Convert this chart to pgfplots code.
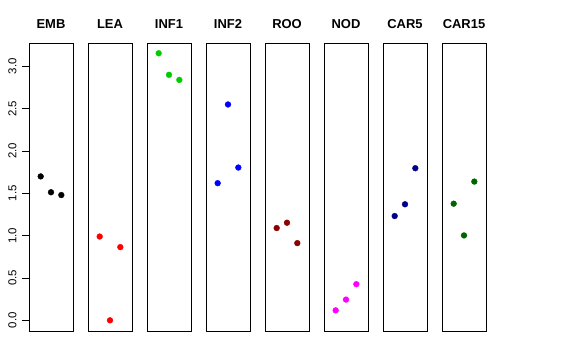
\documentclass[border=0pt]{standalone}
\usepackage{pgfplots}
\pgfplotsset{compat=1.18}
\usepackage{fontspec}
\setmainfont{Liberation Sans}
\definecolor{cgreen}{RGB}{0,205,0}
\definecolor{cdarkred}{RGB}{139,0,0}
\definecolor{cnavy}{RGB}{0,0,139}
\definecolor{cdarkgreen}{RGB}{0,100,0}
\definecolor{cmagenta}{RGB}{255,0,255}
\definecolor{cred}{RGB}{255,0,0}
\definecolor{cblue}{RGB}{0,0,255}
\pgfplotsset{
  panel/.style={
    scale only axis, width=44bp, height=288bp,
    anchor=south west,
    xmin=-0.13, xmax=4.13, ymin=-0.126, ymax=3.276,
    xtick=\empty, ytick=\empty,
    axis line style={line width=0.75bp, black},
    title style={at={(0.5,1)}, anchor=base, yshift=8.7bp, inner sep=0pt,
      font=\bfseries\fontsize{13}{13}\selectfont},
    clip=false,
  },
  pts/.style={only marks, mark=*, mark size=2.9bp, color=#1, mark options={fill=#1, draw=#1}},
}
\newcommand{\panel}[4]{%
  \begin{axis}[panel, at={(#1bp,29bp)}, title={#2}]
    \addplot[pts=#3] coordinates {#4};
  \end{axis}}
\begin{document}
\begin{tikzpicture}
\path[use as bounding box] (0,0) rectangle (576bp,360bp);
\begin{axis}[panel, at={(29bp,29bp)}, title={EMB},
  ytick={0,0.5,1,1.5,2,2.5,3}, ytick pos=left,
  yticklabel style={rotate=90, anchor=south, font=\fontsize{11.5}{11.5}\selectfont},
  yticklabel shift=2bp,
  /pgf/number format/.cd, fixed, fixed zerofill, precision=1, assume math mode=true, /pgfplots/.cd,
  tick align=outside, major tick length=7bp, tick style={line width=0.75bp, black},
  ]
  \addplot[pts=black] coordinates {(1,1.70) (2,1.513) (3,1.48)};
\end{axis}
\panel{88}{LEA}{cred}{(1,0.99) (2,0.0) (3,0.865)}
\panel{147}{INF1}{cgreen}{(1,3.155) (2,2.90) (3,2.84)}
\panel{206}{INF2}{cblue}{(1,1.62) (2,2.55) (3,1.805)}
\panel{265}{ROO}{cdarkred}{(1,1.09) (2,1.153) (3,0.912)}
\panel{324}{NOD}{cmagenta}{(1,0.118) (2,0.245) (3,0.427)}
\panel{383}{CAR5}{cnavy}{(1,1.232) (2,1.371) (3,1.797)}
\panel{442}{CAR15}{cdarkgreen}{(1,1.378) (2,1.003) (3,1.639)}
\end{tikzpicture}
\end{document}
